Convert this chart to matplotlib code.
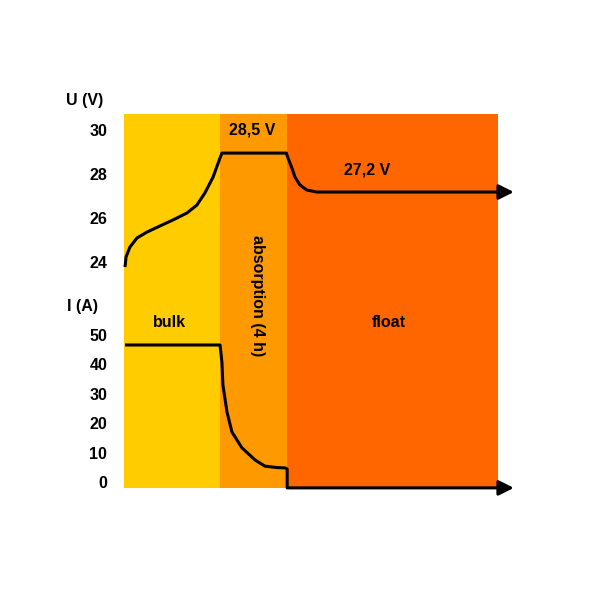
import matplotlib
matplotlib.use("Agg")
import matplotlib.pyplot as plt

plt.rcParams['font.family'] = ['Liberation Sans', 'DejaVu Sans']
plt.rcParams['font.weight'] = 'bold'

# phases (time in hours, absorption = 4 h)
phase_names = ["bulk", "absorption (4 h)", "float"]
phase_edges = [0.0, 5.65, 9.6, 22.0]
phase_colors = ["#FFCC00", "#FF9900", "#FF6600"]

# voltage curve
u_t = [0.06, 0.12, 0.35, 0.76, 1.35, 2.12, 2.88, 3.71, 4.29, 4.76, 5.24, 5.65, 5.76,
       9.55, 9.65, 9.88, 10.06, 10.35, 10.76, 11.35, 22.3]
u_v = [23.77, 24.23, 24.68, 25.09, 25.36, 25.64, 25.91, 26.23, 26.59, 27.14, 27.86, 28.73, 28.95,
       28.95, 28.73, 28.27, 27.86, 27.5, 27.27, 27.18, 27.18]
u_ticks = [24, 26, 28, 30]

# current curve
i_t = [0.06, 5.65, 5.76, 5.82, 6.06, 6.35, 6.94, 7.71, 8.29, 9.0, 9.47, 9.6, 9.6, 22.3]
i_a = [46.6, 46.6, 40.8, 33.0, 23.8, 17.0, 11.6, 7.5, 5.4, 4.9, 4.8, 4.4, -2.0, -2.0]
i_ticks = [0, 10, 20, 30, 40, 50]

arrow_end = 23.1
t_max = 23.3
fs = 11.5

fig = plt.figure(figsize=(6, 6), dpi=100)
W, H = 600.0, 600.0
left = 124 / W
width = (520 - 124) / W
ax_u = fig.add_axes([left, (H - 290) / H, width, (290 - 114) / H])
ax_i = fig.add_axes([left, (H - 488) / H, width, (488 - 290) / H])

ax_u.set_ylim(22.727, 30.727)
ax_i.set_ylim(-2.04, 65.3)

for ax in (ax_u, ax_i):
    ax.set_xlim(0, t_max)
    for k in range(3):
        ax.axvspan(phase_edges[k], phase_edges[k + 1], color=phase_colors[k], lw=0, zorder=0)
    for s in ax.spines.values():
        s.set_visible(False)
    ax.set_xticks([])
    ax.tick_params(axis='y', length=0, pad=12, labelsize=fs)
    ax.patch.set_alpha(0)

ax_u.set_yticks(u_ticks)
ax_u.set_yticklabels([str(v) for v in u_ticks], fontweight='bold')
ax_i.set_yticks(i_ticks)
ax_i.set_yticklabels([str(v) for v in i_ticks], fontweight='bold')

ax_u.plot(u_t, u_v, color='black', lw=2.2, solid_capstyle='butt', solid_joinstyle='round',
          clip_on=False, zorder=3)
ax_i.plot(i_t, i_a, color='black', lw=2.2, solid_capstyle='butt', solid_joinstyle='round',
          clip_on=False, zorder=3)

ax_u.annotate('', xy=(arrow_end, u_v[-1]), xytext=(21.9, u_v[-1]),
              arrowprops=dict(arrowstyle='-|>,head_length=0.9,head_width=0.45', color='black', lw=2.2),
              annotation_clip=False)
ax_i.annotate('', xy=(arrow_end, i_a[-1]), xytext=(21.9, i_a[-1]),
              arrowprops=dict(arrowstyle='-|>,head_length=0.9,head_width=0.45', color='black', lw=2.2),
              annotation_clip=False)

# labels
fig.text(66 / W, 1 - 101 / H, "U (V)", fontsize=fs, fontweight='bold', va='center', ha='left')
fig.text(67 / W, 1 - 306 / H, "I (A)", fontsize=fs, fontweight='bold', va='center', ha='left')

ax_u.text(7.57, 30.0, "28,5 V", fontsize=fs, fontweight='bold', ha='center', va='center')
ax_u.text(14.3, 28.18, "27,2 V", fontsize=fs, fontweight='bold', ha='center', va='center')

ax_i.text(2.7, 54.4, phase_names[0], fontsize=fs, fontweight='bold', ha='center', va='center')
ax_i.text(15.6, 54.4, phase_names[2], fontsize=fs, fontweight='bold', ha='center', va='center')
fig.text(258 / W, 1 - 296 / H, phase_names[1], fontsize=fs, fontweight='bold',
         ha='center', va='center', rotation=-90)

fig.savefig("out.png", dpi=100, facecolor='white')
